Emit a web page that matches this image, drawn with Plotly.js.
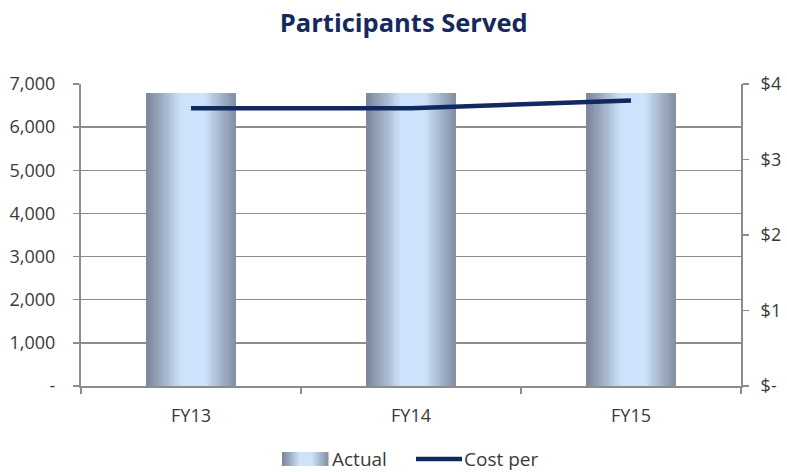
<!DOCTYPE html>
<html>
<head>
<meta charset="utf-8">
<script src="https://cdn.plot.ly/plotly-3.0.1.min.js"></script>
<style>html,body{margin:0;padding:0;background:#fff;}#chart{width:787px;height:472px;}</style>
</head>
<body>
<div id="chart"></div>
<script>
// ---- data ----
const categories = ["FY13", "FY14", "FY15"];
const actual = [6800, 6800, 6800];
const costPer = [3.68, 3.68, 3.78];
const leftTickVals = [0, 1000, 2000, 3000, 4000, 5000, 6000, 7000];
const leftTickText = ["-", "1,000", "2,000", "3,000", "4,000", "5,000", "6,000", "7,000"];
const rightTickVals = [0, 1, 2, 3, 4];
const rightTickText = ["$-", "$1", "$2", "$3", "$4"];
const seriesNames = ["Actual", "Cost per"];

// ---- styles ----
const edge = [123, 135, 155];
const center = [205, 226, 251];
function gradColor(t) {
  let f = 1 - Math.abs(t - 0.52) / 0.52;
  f = Math.min(1, Math.max(0, f * 1.35));
  f = Math.pow(f, 1.1);
  const c = edge.map((e, i) => Math.round(e + (center[i] - e) * f));
  return `rgb(${c[0]},${c[1]},${c[2]})`;
}
const barWidth = 0.405;
const N = 40;
const traces = [];
for (let i = 0; i < N; i++) {
  const w = barWidth / N;
  traces.push({
    type: "bar",
    x: categories,
    y: actual,
    width: w * 1.05,
    offset: -barWidth / 2 + i * w,
    marker: { color: gradColor((i + 0.5) / N), line: { width: 0 } },
    showlegend: false,
    hoverinfo: "skip",
    name: seriesNames[0]
  });
}
traces.push({
  type: "scatter",
  mode: "lines",
  x: categories,
  y: costPer,
  yaxis: "y2",
  name: seriesNames[1],
  line: { color: "#10295f", width: 4.5 },
  showlegend: false
});

// custom legend (swatches)
const shapes = [];
const sw = { x0: 282, x1: 328, y0: 452, y1: 466 };
const M = 24;
for (let i = 0; i < M; i++) {
  const a = sw.x0 + (sw.x1 - sw.x0) * i / M;
  const b = sw.x0 + (sw.x1 - sw.x0) * (i + 1) / M + 0.5;
  shapes.push({
    type: "rect", xref: "paper", yref: "paper",
    x0: (a - 81) / 660, x1: (b - 81) / 660,
    y0: (386 - sw.y1) / 302, y1: (386 - sw.y0) / 302,
    fillcolor: gradColor((i + 0.5) / M), line: { width: 0 }, layer: "above"
  });
}
shapes.push({
  type: "line", xref: "paper", yref: "paper",
  x0: (416 - 81) / 660, x1: (462 - 81) / 660,
  y0: (386 - 459) / 302, y1: (386 - 459) / 302,
  line: { color: "#10295f", width: 4.5 }
});

const font = "'Open Sans', 'Noto Sans', sans-serif";
const tickFont = { family: font, size: 18, color: "#3a3a3a" };
const layout = {
  width: 787, height: 472,
  margin: { l: 81, r: 46, t: 84, b: 86 },
  paper_bgcolor: "#fff", plot_bgcolor: "#fff",
  barmode: "overlay",
  bargap: 0,
  font: { family: font, size: 18, color: "#3a3a3a" },
  title: {
    text: "<b>Participants Served</b>",
    font: { family: font, size: 25.5, color: "#15295c" },
    x: 0.513, xanchor: "center", y: 0.952, yanchor: "middle"
  },
  showlegend: false,
  xaxis: {
    type: "category",
    showline: true, linecolor: "#8c8c8c", linewidth: 2,
    ticks: "outside", tickson: "boundaries", ticklen: 6, tickcolor: "#8c8c8c", tickwidth: 1.5,
    ticklabelstandoff: 12,
    showgrid: false, zeroline: false,
    tickfont: tickFont
  },
  yaxis: {
    range: [0, 7000],
    tickvals: leftTickVals, ticktext: leftTickText,
    showline: true, linecolor: "#8c8c8c", linewidth: 2,
    ticks: "outside", ticklen: 6, tickcolor: "#8c8c8c", tickwidth: 1.5,
    ticklabelstandoff: 14,
    showgrid: true, gridcolor: "#8c8c8c", gridwidth: 1.5,
    zeroline: false,
    tickfont: tickFont
  },
  yaxis2: {
    range: [0, 4],
    overlaying: "y", side: "right",
    tickvals: rightTickVals, ticktext: rightTickText,
    showline: true, linecolor: "#8c8c8c", linewidth: 2,
    ticks: "outside", ticklen: 6, tickcolor: "#8c8c8c", tickwidth: 1.5,
    ticklabelstandoff: 8,
    showgrid: false, zeroline: false,
    tickfont: tickFont
  },
  shapes: shapes,
  annotations: [
    { xref: "paper", yref: "paper", x: (330 - 81) / 660, y: (386 - 459) / 302,
      xanchor: "left", yanchor: "middle", showarrow: false, text: seriesNames[0],
      font: { family: font, size: 19, color: "#3a3a3a" } },
    { xref: "paper", yref: "paper", x: (462 - 81) / 660, y: (386 - 459) / 302,
      xanchor: "left", yanchor: "middle", showarrow: false, text: seriesNames[1],
      font: { family: font, size: 19, color: "#3a3a3a" } }
  ]
};
Plotly.newPlot("chart", traces, layout, { staticPlot: true });
</script>
</body>
</html>
